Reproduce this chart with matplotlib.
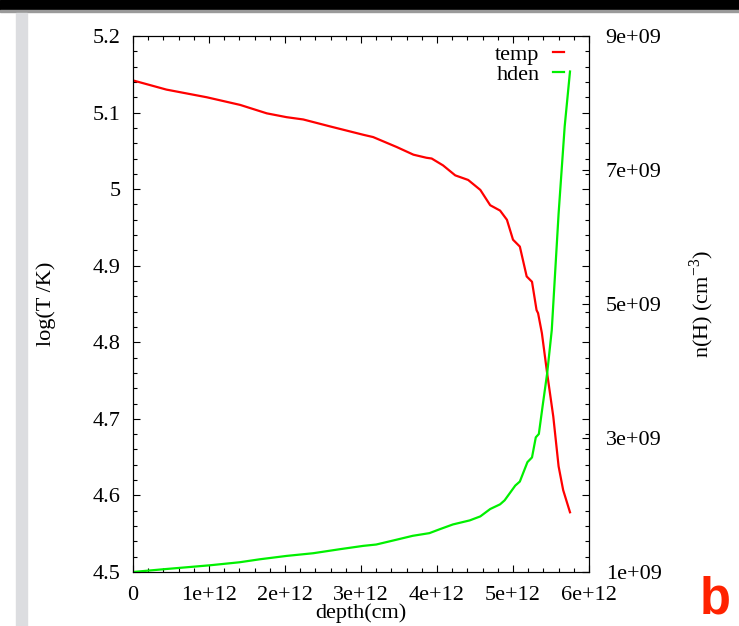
import matplotlib
matplotlib.use('Agg')
import matplotlib.pyplot as plt
from matplotlib.patches import Rectangle
from matplotlib.ticker import MultipleLocator, FixedLocator, FuncFormatter

# temperature profile (depth in units of 1e12 cm, log T)
temp_depth = [0.0, 0.44, 0.97, 1.41, 1.76, 2.02, 2.24, 2.59, 3.03, 3.16, 3.47, 3.69,
              3.86, 3.93, 4.08, 4.24, 4.41, 4.57, 4.70, 4.83, 4.92, 5.00, 5.05, 5.09,
              5.18, 5.25, 5.31, 5.33, 5.38, 5.45, 5.53, 5.60, 5.66, 5.75]
temp_logT = [5.142, 5.130, 5.120, 5.110, 5.099, 5.094, 5.091, 5.082, 5.071, 5.068, 5.055, 5.045,
             5.041, 5.040, 5.031, 5.018, 5.012, 4.999, 4.979, 4.972, 4.960, 4.934, 4.929, 4.925,
             4.886, 4.879, 4.842, 4.838, 4.812, 4.759, 4.703, 4.638, 4.607, 4.578]

# hydrogen density (depth in units of 1e12 cm, n(H) in units of 1e9 cm^-3)
hden_depth = [0.0, 0.39, 1.01, 1.40, 1.67, 2.02, 2.37, 2.72, 3.03, 3.20, 3.46, 3.68,
              3.90, 4.04, 4.21, 4.43, 4.57, 4.70, 4.83, 4.89, 5.03, 5.09, 5.19, 5.25,
              5.30, 5.34, 5.39, 5.45, 5.51, 5.60, 5.68, 5.75]
hden_nH = [1.00, 1.04, 1.10, 1.145, 1.19, 1.24, 1.28, 1.34, 1.39, 1.41, 1.48, 1.54,
           1.58, 1.64, 1.71, 1.77, 1.83, 1.94, 2.01, 2.07, 2.29, 2.35, 2.64, 2.71,
           3.01, 3.06, 3.48, 3.97, 4.61, 6.35, 7.65, 8.47]

plt.rcParams['font.family'] = ['Liberation Serif', 'DejaVu Serif']
plt.rcParams['font.size'] = 16
plt.rcParams['mathtext.fontset'] = 'custom'
plt.rcParams['mathtext.rm'] = 'Liberation Serif'

W, H = 739, 626
fig = plt.figure(figsize=(W / 100, H / 100), dpi=100)

# page decorations: black bar on top, grey strip on the left
fig.patches.append(Rectangle((0, 1 - 10 / H), 1, 10 / H, transform=fig.transFigure,
                             color='black', zorder=0))
fig.patches.append(Rectangle((0, 1 - 11.5 / H), 1, 1.5 / H, transform=fig.transFigure,
                             color='#9a9a9a', zorder=0))
fig.patches.append(Rectangle((16 / W, 0), 11 / W, 1 - 13 / H, transform=fig.transFigure,
                             color='#dcdde0', zorder=0))

ax = fig.add_axes([133 / W, 54 / H, 456 / W, 536 / H])
ax2 = ax.twinx()

l1, = ax.plot([d * 1e12 for d in temp_depth], temp_logT, color='#ff0000', lw=1.6, label='temp')
l2, = ax2.plot([d * 1e12 for d in hden_depth], [n * 1e9 for n in hden_nH], color='#00f000',
               lw=1.6, label='hden')

ax.set_xlim(0, 6e12)
ax.set_ylim(4.5, 5.2)
ax2.set_ylim(1e9, 9e9)

ax.xaxis.set_major_locator(MultipleLocator(1e12))
ax.xaxis.set_minor_locator(MultipleLocator(0.2e12))
ax.xaxis.set_major_formatter(FuncFormatter(lambda v, p: '0' if v == 0 else f'{v:.0e}'))
ax.yaxis.set_major_locator(MultipleLocator(0.1))
ax.yaxis.set_minor_locator(MultipleLocator(0.02))
ax.yaxis.set_major_formatter(FuncFormatter(lambda v, p: f'{v:g}'))
ax2.yaxis.set_major_locator(FixedLocator([1e9, 3e9, 5e9, 7e9, 9e9]))
ax2.yaxis.set_major_formatter(FuncFormatter(lambda v, p: f'{v:.0e}'))

ax.tick_params(which='both', direction='in', top=True, right=True, width=0.8, color='black')
ax.tick_params(which='major', length=4.8)
ax.tick_params(which='minor', length=2.9)
ax.tick_params(axis='y', which='major', pad=9)
ax.tick_params(axis='x', which='major', pad=10)
ax2.tick_params(which='both', direction='in', width=0.8, length=4.8, pad=12)

for a in (ax, ax2):
    for s in a.spines.values():
        s.set_linewidth(0.8)

ax.set_xlabel('depth(cm)')
ax.xaxis.set_label_coords(0.5, -0.059)
ax.set_ylabel('log(T /K)')
ax.yaxis.set_label_coords(-0.168, 0.5)
ax2.set_ylabel(r'n(H) (cm$^{\mathregular{-3}}$)')
ax2.yaxis.set_label_coords(1.215, 0.5)

ax.legend([l1, l2], ['temp', 'hden'], loc='upper right', bbox_to_anchor=(0.945, 0.985),
          frameon=False, markerfirst=False, handlelength=0.5, handletextpad=0.6,
          labelspacing=0.0, borderaxespad=0, borderpad=0)

fig.text(700 / W, 1 / H, 'b', color='#ff2200', fontsize=36.5, fontweight='bold',
         family='Liberation Sans', ha='left', va='bottom')

fig.savefig('out.png', dpi=100)
